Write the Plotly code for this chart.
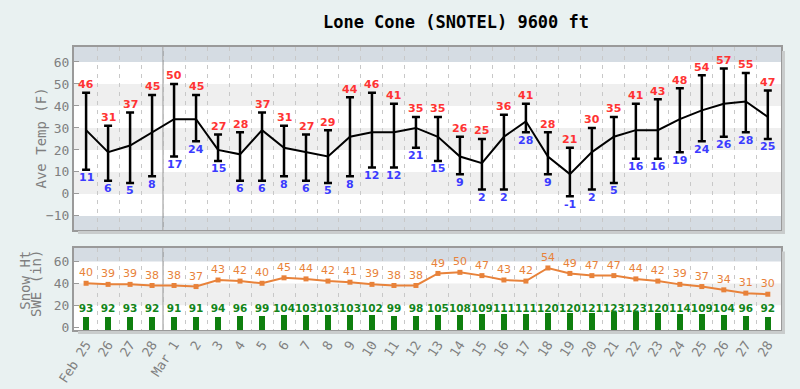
import plotly.graph_objects as go

# ---------------- data ----------------
day_labels = ["Feb 25", "26", "27", "28", "Mar 1", "2", "3", "4", "5", "6", "7", "8", "9",
              "10", "11", "12", "13", "14", "15", "16", "17", "18", "19", "20", "21",
              "22", "23", "24", "25", "26", "27", "28"]
temp_max = [46, 31, 37, 45, 50, 45, 27, 28, 37, 31, 27, 29, 44, 46, 41, 35, 35, 26, 25, 36,
            41, 28, 21, 30, 35, 41, 43, 48, 54, 57, 55, 47]
temp_min = [11, 6, 5, 8, 17, 24, 15, 6, 6, 8, 6, 5, 8, 12, 12, 21, 15, 9, 2, 2,
            28, 9, -1, 2, 5, 16, 16, 19, 24, 26, 28, 25]
temp_ave = [29, 19, 22, 28, 34, 34, 20, 18, 29, 21, 19, 17, 26, 28, 28, 30, 26, 17, 14, 26,
            33, 17, 9, 19, 26, 29, 29, 34, 38, 41, 42, 35]
swe = [40, 39, 39, 38, 38, 37, 43, 42, 40, 45, 44, 42, 41, 39, 38, 38, 49, 50, 47, 43,
       42, 54, 49, 47, 47, 44, 42, 39, 37, 34, 31, 30]
snow_ht = [93, 92, 93, 92, 91, 91, 94, 96, 99, 104, 103, 103, 103, 102, 99, 98, 105, 108,
           109, 111, 111, 120, 120, 121, 123, 123, 120, 114, 109, 104, 96, 92]

x = list(range(len(day_labels)))

# ---------------- styling constants ----------------
PAGE_BG = "#e9f1f1"
BAND_GREY = "#efefef"
BAND_BLUE = "#d5dce3"
FRAME = "#9a9a9a"
SHADOW = "#c9cccc"
TICK_GREY = "#7f7f7f"
MONO = "DejaVu Sans Mono"
SANS = "DejaVu Sans"
RED = "#ff3333"
BLUE = "#3b3bff"
ORANGE = "#e8823a"
GREEN = "#13851a"

L, R, T, B = 74, 19, 47, 59
W, H = 800, 389
PW = W - L - R
PH = H - T - B
top_px = (47, 230)
bot_px = (247.5, 330)
top_dom = [(H - B - top_px[1]) / PH, 1.0]
bot_dom = [0.0, (H - B - bot_px[0]) / PH]

y1_range = [-16.4, 66.8]
y2_range = [-2.7, 72.7]
y3_range = [0, 560]
x_range = [-0.55, 31.6]

fig = go.Figure()

# temperature: average line with max/min error bars
fig.add_trace(go.Scatter(
    x=x, y=temp_ave, mode="lines", xaxis="x", yaxis="y",
    line=dict(color="black", width=2),
    error_y=dict(type="data", symmetric=False,
                 array=[mx - a for mx, a in zip(temp_max, temp_ave)],
                 arrayminus=[a - mn for mn, a in zip(temp_min, temp_ave)],
                 color="black", thickness=2.5, width=4),
    hoverinfo="skip", showlegend=False))

# snow height bars (own scale)
fig.add_trace(go.Bar(
    x=x, y=snow_ht, xaxis="x2", yaxis="y3", width=0.25,
    marker=dict(color="#0f7f0f", line=dict(width=0)),
    hoverinfo="skip", showlegend=False))
fig.add_trace(go.Scatter(
    x=x, y=[16] * len(x), mode="text", text=[str(v) for v in snow_ht],
    textposition="middle center", xaxis="x2", yaxis="y2",
    textfont=dict(family=SANS, size=10.5, color=GREEN, weight="bold"),
    hoverinfo="skip", showlegend=False))
# SWE line
fig.add_trace(go.Scatter(
    x=x, y=swe, mode="lines+markers+text", text=[str(v) for v in swe],
    textposition="top center", xaxis="x2", yaxis="y2",
    line=dict(color=ORANGE, width=2),
    marker=dict(symbol="square", size=5, color=ORANGE),
    textfont=dict(family=SANS, size=11, color=ORANGE),
    hoverinfo="skip", showlegend=False))

shapes = []
# background bands top panel
for lo in range(-10, 60, 10):
    col = BAND_GREY if (lo // 10) % 2 == 0 else "white"
    shapes.append(dict(type="rect", xref="x", yref="y", x0=x_range[0], x1=x_range[1],
                       y0=lo, y1=lo + 10, fillcolor=col, line_width=0, layer="below"))
shapes.append(dict(type="rect", xref="x", yref="y", x0=x_range[0], x1=x_range[1],
                   y0=60, y1=y1_range[1], fillcolor=BAND_BLUE, line_width=0, layer="below"))
shapes.append(dict(type="rect", xref="x", yref="y", x0=x_range[0], x1=x_range[1],
                   y0=y1_range[0], y1=-10, fillcolor=BAND_BLUE, line_width=0, layer="below"))
# bands bottom panel
for lo, hi, col in [(y2_range[0], 20, "white"), (20, 40, BAND_GREY), (40, 60, "white"),
                    (60, y2_range[1], BAND_BLUE)]:
    shapes.append(dict(type="rect", xref="x2", yref="y2", x0=x_range[0], x1=x_range[1],
                       y0=lo, y1=hi, fillcolor=col, line_width=0, layer="below"))
# month separator
for xr, yr, rng in [("x", "y", y1_range), ("x2", "y2", y2_range)]:
    shapes.append(dict(type="line", xref=xr, yref=yr, x0=3.5, x1=3.5, y0=rng[0], y1=rng[1],
                       line=dict(color="#8a8a8a", width=1), layer="below"))


# frame shadows (paper coordinates)
def px_to_paper(px, py):
    return (px - L) / PW, (H - B - py) / PH


for (ytop, ybot) in [top_px, bot_px]:
    x0, y0 = px_to_paper(W - R + 1, ytop + 4)
    x1, y1 = px_to_paper(W - R + 4, ybot + 4)
    shapes.append(dict(type="rect", xref="paper", yref="paper", x0=x0, x1=x1, y0=y1, y1=y0,
                       fillcolor=SHADOW, line_width=0, layer="above"))
    x0, y0 = px_to_paper(L + 4, ybot + 1)
    x1, y1 = px_to_paper(W - R + 4, ybot + 4)
    shapes.append(dict(type="rect", xref="paper", yref="paper", x0=x0, x1=x1, y0=y1, y1=y0,
                       fillcolor=SHADOW, line_width=0, layer="above"))

half_days = [i + 0.5 for i in range(len(x) - 1)]
axis_common = dict(showline=True, linecolor=FRAME, linewidth=2, mirror=True, zeroline=False,
                   automargin=False)
minor_grid = dict(tickvals=half_days, showgrid=True, gridcolor="#c8c8c8", griddash="4px,5px",
                  gridwidth=1, ticks="")

annotations = []
# max / min labels
for xi, mx, mn in zip(x, temp_max, temp_min):
    annotations.append(dict(text=str(mx), x=xi, y=mx, xref="x", yref="y", showarrow=False,
                            xanchor="center", yanchor="middle", yshift=8,
                            font=dict(family=SANS, size=11, color=RED, weight="bold")))
    annotations.append(dict(text=str(mn), x=xi, y=mn, xref="x", yref="y", showarrow=False,
                            xanchor="center", yanchor="middle", yshift=-8,
                            font=dict(family=SANS, size=11, color=BLUE, weight="bold")))

ax, ay = px_to_paper(40, sum(top_px) / 2)
annotations.append(dict(text="Ave Temp (F)", x=ax, y=ay, xref="paper", yref="paper",
                        textangle=-90, showarrow=False, xanchor="center", yanchor="middle",
                        font=dict(family=MONO, size=14, color=TICK_GREY)))
for txt, px, nchar in [("Snow Ht", 25, 7), ("SWE (in)", 36, 8)]:
    ax, ay = px_to_paper(px, 250 + nchar * 8.5 / 2)
    annotations.append(dict(text=txt, x=ax, y=ay, xref="paper", yref="paper",
                            textangle=-90, showarrow=False, xanchor="center", yanchor="middle",
                            font=dict(family=MONO, size=14, color=TICK_GREY)))

fig.update_layout(
    width=W, height=H,
    margin=dict(l=L, r=R, t=T, b=B, autoexpand=False),
    paper_bgcolor=PAGE_BG, plot_bgcolor="white",
    title=dict(text="<b>Lone Cone (SNOTEL) 9600 ft</b>", xref="container", yref="container",
               x=456 / W, y=1 - 22 / H, xanchor="center", yanchor="middle",
               font=dict(family=MONO, size=17, color="black")),
    xaxis=dict(domain=[0, 1], anchor="y", range=x_range, showticklabels=False, showgrid=False,
               tickvals=x, ticks="", minor=minor_grid, **axis_common),
    yaxis=dict(domain=top_dom, anchor="x", range=y1_range, tickvals=list(range(-10, 70, 10)),
               showgrid=False, ticks="inside", ticklen=5, tickcolor=FRAME,
               tickfont=dict(family=MONO, size=13, color=TICK_GREY), **axis_common),
    xaxis2=dict(domain=[0, 1], anchor="y2", range=x_range, tickvals=x, ticktext=day_labels,
                tickangle=-57, showgrid=False, ticks="",
                tickfont=dict(family=MONO, size=13, color=TICK_GREY), minor=minor_grid,
                **axis_common),
    yaxis2=dict(domain=bot_dom, anchor="x2", range=y2_range, tickvals=[0, 20, 40, 60],
                showgrid=False, ticks="inside", ticklen=5, tickcolor=FRAME,
                tickfont=dict(family=MONO, size=13, color=TICK_GREY), **axis_common),
    yaxis3=dict(overlaying="y2", anchor="x2", range=y3_range, visible=False),
    shapes=shapes, annotations=annotations,
    bargap=0, showlegend=False,
)

fig.write_html("out.html")
